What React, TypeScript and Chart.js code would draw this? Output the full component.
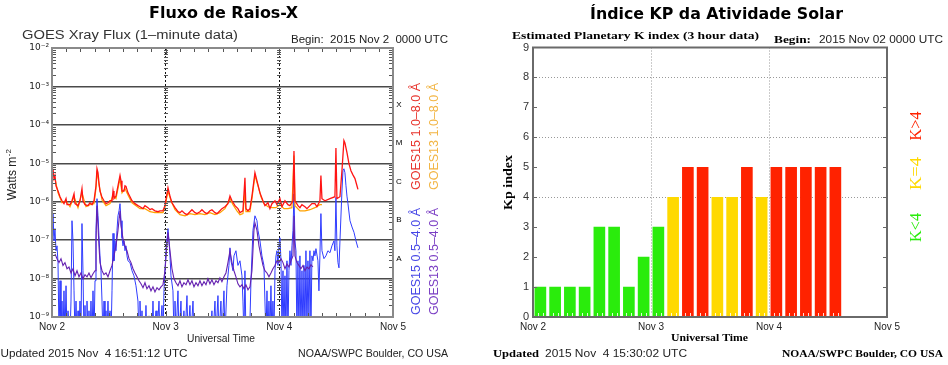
import React, { useEffect, useRef } from 'react';
import { Chart, registerables } from 'chart.js';

Chart.register(...registerables);

// ---------- shared axis data ----------
const dayLabels = ['Nov 2', 'Nov 3', 'Nov 4', 'Nov 5'];
const dayHours = [0, 24, 48, 72];

// ---------- X-ray flux panel ----------
const fluxTickValues = [1e-9, 1e-8, 1e-7, 1e-6, 1e-5, 1e-4, 1e-3, 1e-2];
const fluxTickLabels = ['10⁻⁹', '10⁻⁸', '10⁻⁷', '10⁻⁶', '10⁻⁵', '10⁻⁴', '10⁻³', '10⁻²'];
const flareClassLabels = ['A', 'B', 'C', 'M', 'X'];
const flareClassCenters = [3.5e-8, 3.5e-7, 3.5e-6, 3.5e-5, 3.5e-4];

// [hours since 2015 Nov 2 00:00 UTC, W/m^2]
const goes15Long: [number, number][] = [
  [0, 6.4e-6], [0.21, 7.2e-6], [0.42, 4.0e-6], [0.63, 4.8e-6], [0.84, 2.6e-6], [1.27, 1.9e-6], [1.69, 1.35e-6],
  [2.11, 1.06e-6], [2.53, 8.9e-7], [2.96, 1.2e-6], [3.17, 8.4e-7], [3.8, 8.4e-7], [4.22, 1.06e-6], [4.65, 1.6e-6],
  [4.86, 8.9e-7], [5.49, 7.9e-7], [5.91, 1.06e-6], [6.33, 2.2e-6], [6.54, 1.06e-6], [6.97, 8.4e-7], [7.6, 7.9e-7],
  [8.02, 9.4e-7], [8.45, 8.4e-7], [8.87, 1.06e-6], [9.29, 2.6e-6], [9.5, 7.2e-6], [9.71, 5.7e-6], [9.92, 3.1e-6],
  [10.13, 1.9e-6], [10.56, 1.3e-6], [10.98, 1.06e-6], [11.4, 8.9e-7], [11.82, 9.4e-7], [12.25, 1.06e-6],
  [12.67, 1.06e-6], [12.88, 1.9e-6], [13.09, 1.2e-6], [13.51, 1.4e-6], [13.93, 2.6e-6], [14.36, 4.8e-6],
  [14.57, 3.5e-6], [14.78, 1.9e-6], [15.2, 1.9e-6], [15.41, 2.6e-6], [15.62, 2.5e-6], [16.04, 1.7e-6],
  [16.47, 1.35e-6], [16.89, 1.06e-6], [17.52, 8.9e-7], [18.15, 7.9e-7], [18.58, 7.4e-7], [19.21, 6.6e-7],
  [19.63, 7.9e-7], [20.27, 7.0e-7], [20.69, 6.2e-7], [21.11, 6.6e-7], [21.74, 5.8e-7], [22.38, 5.5e-7],
  [22.8, 5.8e-7], [23.43, 5.8e-7], [23.85, 7.9e-7], [24.49, 2.3e-6], [24.91, 1.4e-6], [25.33, 9.4e-7],
  [25.97, 7.0e-7], [26.6, 5.5e-7], [27.02, 5.2e-7], [27.44, 5.8e-7], [28.08, 4.9e-7], [28.5, 4.6e-7],
  [29.13, 5.5e-7], [29.55, 6.2e-7], [30.19, 5.2e-7], [30.61, 4.9e-7], [31.24, 5.5e-7], [31.66, 6.2e-7],
  [32.3, 5.2e-7], [32.72, 4.9e-7], [33.35, 5.8e-7], [33.77, 6.2e-7], [34.41, 5.2e-7], [34.83, 4.9e-7],
  [35.46, 5.8e-7], [35.88, 6.6e-7], [36.52, 7.4e-7], [37.15, 8.9e-7], [37.58, 1.4e-6], [38.0, 1.06e-6],
  [38.63, 7.9e-7], [39.26, 6.6e-7], [39.69, 5.2e-7], [40.32, 5.8e-7], [40.74, 4.2e-6], [40.95, 6.6e-7],
  [41.38, 5.8e-7], [41.8, 6.6e-7], [42.22, 1.4e-6], [42.85, 5.7e-6], [43.28, 3.5e-6], [43.91, 1.7e-6],
  [44.54, 1.06e-6], [44.96, 7.9e-7], [45.6, 9.4e-7], [46.02, 6.6e-7], [46.44, 8.9e-7], [47.08, 1.06e-6],
  [47.5, 8.4e-7], [48.13, 1.2e-6], [48.56, 7.4e-7], [49.19, 1.06e-6], [49.82, 8.4e-7], [50.24, 7.9e-7],
  [50.88, 1.06e-6], [51.09, 2.1e-5], [51.3, 1.06e-6], [51.93, 7.9e-7], [52.35, 7.0e-7], [52.77, 8.4e-7],
  [53.41, 7.4e-7], [53.83, 6.6e-7], [54.46, 7.9e-7], [54.88, 8.9e-7], [55.52, 8.9e-7], [55.94, 7.4e-7],
  [56.57, 1.06e-6], [56.78, 4.8e-6], [57.0, 1.2e-6], [57.63, 1.06e-6], [58.69, 1.2e-6], [59.74, 1.35e-6],
  [59.95, 2.5e-5], [60.16, 1.2e-6], [60.8, 1.35e-6], [61.22, 6.4e-6], [61.64, 3.9e-5], [61.85, 3.4e-5],
  [62.28, 1.9e-5], [62.7, 9.8e-6], [63.12, 6.4e-6], [63.54, 5.0e-6], [63.97, 4.0e-6], [64.39, 2.6e-6],
  [64.6, 2.1e-6],
];

const goes13Long: [number, number][] = [
  [0, 5.7e-6], [0.63, 4.0e-6], [1.27, 1.7e-6], [2.11, 9.4e-7], [2.96, 1.06e-6], [3.8, 7.4e-7], [4.65, 1.35e-6],
  [5.49, 7.0e-7], [6.33, 1.7e-6], [7.18, 7.4e-7], [8.02, 8.4e-7], [8.87, 8.9e-7], [9.29, 2.2e-6], [9.5, 6.4e-6],
  [9.92, 2.8e-6], [10.56, 1.1e-6], [11.4, 7.9e-7], [12.25, 8.9e-7], [12.88, 1.5e-6], [13.51, 1.2e-6],
  [14.36, 4.0e-6], [14.78, 1.7e-6], [15.41, 2.2e-6], [16.04, 1.5e-6], [16.89, 9.4e-7], [17.73, 7.9e-7],
  [18.58, 6.6e-7], [19.63, 6.6e-7], [20.69, 5.5e-7], [21.74, 5.2e-7], [22.8, 5.2e-7], [23.43, 5.2e-7],
  [23.85, 7.0e-7], [24.49, 1.9e-6], [25.12, 1.06e-6], [25.97, 6.2e-7], [27.02, 4.6e-7], [28.08, 4.3e-7],
  [29.13, 4.9e-7], [30.19, 4.6e-7], [31.24, 4.9e-7], [32.3, 4.6e-7], [33.35, 5.2e-7], [34.41, 4.6e-7],
  [35.46, 5.2e-7], [36.52, 6.6e-7], [37.58, 1.2e-6], [38.21, 8.4e-7], [39.05, 5.8e-7], [39.69, 4.6e-7],
  [40.32, 4.9e-7], [40.74, 1.9e-6], [40.95, 5.5e-7], [41.8, 5.5e-7], [42.22, 1.2e-6], [42.85, 4.8e-6],
  [43.49, 2.6e-6], [44.12, 1.35e-6], [44.75, 8.9e-7], [45.6, 7.4e-7], [46.44, 7.0e-7], [47.29, 7.0e-7],
  [48.13, 8.4e-7], [48.98, 6.6e-7], [49.82, 6.6e-7], [50.66, 7.0e-7], [51.09, 1.6e-5], [51.3, 7.9e-7],
  [52.35, 5.8e-7], [53.41, 5.8e-7], [54.46, 6.2e-7], [55.52, 7.0e-7], [56.57, 8.4e-7], [57.0, 8.4e-7],
];

const goes15Short: [number, number][] = [
  [0, 1.3e-7], [0.21, 4.9e-7], [0.42, 9.6e-8], [0.63, 2.0e-7], [0.84, 5.3e-8], [1.06, 7.1e-8], [1.27, 2.6e-8],
  [1.48, 3e-10], [1.69, 8.8e-9], [1.9, 3e-10], [2.11, 2.6e-9], [2.32, 3e-10], [2.53, 4.8e-9], [2.74, 3e-10],
  [2.96, 6.5e-9], [3.17, 3e-10], [3.38, 1.45e-9], [3.8, 3e-10], [4.01, 2.6e-9], [4.22, 3.2e-7], [4.43, 9.6e-8],
  [4.65, 4.8e-9], [4.86, 3e-10], [5.07, 2.6e-9], [5.28, 3e-10], [5.49, 1.45e-9], [5.7, 3e-10], [5.91, 2.6e-9],
  [6.12, 3e-10], [6.33, 2.7e-7], [6.54, 1.6e-8], [6.75, 3e-10], [6.97, 2.0e-9], [7.18, 3e-10], [7.39, 2.6e-9],
  [7.6, 3e-10], [7.81, 1.45e-9], [8.02, 3e-10], [8.23, 2.6e-9], [8.45, 3e-10], [8.66, 4.8e-9], [8.87, 3e-10],
  [9.08, 8.8e-9], [9.29, 1.8e-7], [9.5, 1.2e-6], [9.71, 4.3e-7], [9.92, 1.3e-7], [10.13, 3.9e-8], [10.34, 1.6e-8],
  [10.56, 2.6e-9], [10.77, 3e-10], [10.98, 2.6e-9], [11.19, 3e-10], [11.4, 1.45e-9], [11.61, 3e-10],
  [11.82, 2.6e-9], [12.03, 3e-10], [12.25, 1.45e-9], [12.46, 3e-10], [12.67, 4.8e-9], [12.88, 1.5e-7],
  [13.09, 2.9e-8], [13.3, 9.6e-8], [13.51, 5.3e-8], [13.72, 1.8e-7], [13.93, 4.3e-7], [14.15, 5.8e-7],
  [14.36, 8.9e-7], [14.57, 3.2e-7], [14.78, 1.15e-7], [14.99, 7.1e-8], [15.2, 9.6e-8], [15.41, 5.3e-8],
  [15.62, 7.1e-8], [15.83, 3.9e-8], [16.04, 2.9e-8], [16.47, 2.6e-8], [16.89, 1.6e-8], [17.31, 1.18e-8],
  [17.73, 6.5e-9], [18.15, 2.6e-9], [18.37, 3e-10], [18.58, 2.6e-9], [18.79, 3e-10], [19.0, 1.45e-9],
  [19.21, 3e-10], [19.63, 3e-10], [19.84, 2.0e-9], [20.05, 3e-10], [20.48, 1.07e-9], [20.69, 3e-10],
  [21.11, 3e-10], [21.32, 2.6e-9], [21.53, 3e-10], [21.96, 1.45e-9], [22.17, 3e-10], [22.59, 2.6e-9],
  [22.8, 3e-10], [23.22, 2.0e-9], [23.43, 3e-10], [23.64, 4.8e-9], [24.07, 5.3e-8], [24.49, 2.0e-7],
  [24.7, 9.6e-8], [24.91, 3.9e-8], [25.12, 1.18e-8], [25.54, 4.8e-9], [25.76, 3e-10], [25.97, 2.6e-9],
  [26.18, 3e-10], [26.6, 4.8e-9], [26.81, 3e-10], [27.23, 2.6e-9], [27.44, 3e-10], [27.86, 1.45e-9],
  [28.08, 3e-10], [28.5, 3.6e-9], [28.71, 3e-10], [29.13, 2.0e-9], [29.34, 3e-10], [29.77, 2.6e-9],
  [29.98, 3e-10], [31.24, 8e-10], [31.66, 3e-10], [33.35, 3e-10], [33.77, 1.45e-9], [33.98, 3e-10],
  [34.41, 2.6e-9], [34.62, 3e-10], [35.04, 3.6e-9], [35.25, 3e-10], [35.67, 2.6e-9], [35.88, 3e-10],
  [36.31, 4.8e-9], [36.52, 3e-10], [36.94, 6.5e-9], [37.36, 2.2e-8], [37.58, 6.3e-8], [37.79, 2.9e-8],
  [38.21, 1.6e-8], [38.42, 3.9e-8], [38.84, 5.3e-8], [39.26, 2.2e-8], [39.69, 2.9e-8], [40.11, 1.18e-8],
  [40.32, 2.6e-9], [40.53, 3e-10], [40.74, 1.6e-8], [40.95, 3e-10], [41.59, 3e-10], [41.8, 8e-10],
  [42.01, 8.8e-9], [42.43, 1.8e-7], [42.85, 4.3e-7], [43.28, 3.2e-7], [43.49, 1.8e-7], [43.91, 9.6e-8],
  [44.33, 3.9e-8], [44.75, 2.2e-8], [44.96, 2.6e-9], [45.18, 3e-10], [45.39, 4.8e-9], [45.6, 3e-10],
  [45.81, 2.6e-9], [46.02, 3e-10], [46.23, 6.5e-9], [46.44, 3e-10], [46.65, 2.6e-9], [46.87, 3e-10],
  [47.08, 1.6e-8], [47.29, 3.9e-8], [47.5, 5.3e-8], [47.71, 2.2e-8], [47.92, 7.1e-8], [48.13, 1.15e-7],
  [48.35, 2.9e-8], [48.56, 3e-10], [48.77, 1.6e-8], [48.98, 3e-10], [49.19, 1.18e-8], [49.4, 3e-10],
  [49.61, 2.9e-8], [49.82, 3e-10], [50.03, 1.6e-8], [50.24, 5.3e-8], [50.46, 2.2e-8], [50.67, 7.1e-8],
  [50.88, 1.8e-7], [51.09, 1.6e-6], [51.3, 9.6e-8], [51.51, 5.3e-8], [51.72, 3e-10], [51.93, 2.9e-8],
  [52.14, 3e-10], [52.35, 3.9e-8], [52.56, 3e-10], [52.78, 1.6e-8], [52.99, 3e-10], [53.2, 2.2e-8],
  [53.41, 3e-10], [53.62, 5.3e-8], [53.83, 3e-10], [54.04, 2.9e-8], [54.25, 8e-10], [54.46, 5.3e-8],
  [54.67, 3e-10], [54.88, 3.9e-8], [55.1, 2.9e-8], [55.31, 5.3e-8], [55.52, 3.9e-8], [55.73, 6.0e-8],
  [56.15, 2.9e-8], [56.36, 4.8e-9], [56.57, 3.9e-8], [56.78, 4.9e-7], [57.0, 5.3e-8], [57.42, 3.3e-8],
  [57.84, 3.9e-8], [58.26, 5.3e-8], [58.69, 4.7e-8], [59.11, 7.1e-8], [59.53, 9.6e-8], [59.74, 5.3e-8],
  [59.95, 1.3e-6], [60.16, 7.1e-8], [60.38, 2.6e-8], [60.59, 1.9e-8], [60.8, 9.6e-8], [61.22, 1.9e-6],
  [61.43, 6.4e-6], [61.64, 7.2e-6], [61.85, 5.7e-6], [62.07, 2.6e-6], [62.28, 1.4e-6], [62.49, 8.9e-7],
  [62.92, 3.2e-7], [63.34, 2.2e-7], [63.76, 1.6e-7], [64.18, 9.6e-8], [64.6, 6.3e-8],
];

const goes13Short: [number, number][] = [
  [0.63, 4.4e-8], [1.06, 3.3e-8], [1.48, 2.6e-8], [1.9, 3.3e-8], [2.32, 2.2e-8], [2.74, 2.6e-8], [3.17, 1.8e-8],
  [3.59, 2.0e-8], [4.01, 1.4e-8], [4.43, 1.8e-8], [4.86, 1.18e-8], [5.28, 1.6e-8], [5.7, 1.11e-8], [6.12, 1.4e-8],
  [6.54, 9.9e-9], [6.97, 1.26e-8], [7.39, 1.11e-8], [7.81, 1.4e-8], [8.23, 1.05e-8], [8.66, 1.33e-8],
  [9.08, 1.6e-8], [9.29, 9.6e-8], [9.5, 7.9e-7], [9.71, 2.4e-7], [9.92, 7.1e-8], [10.13, 2.6e-8], [10.56, 1.6e-8],
  [10.98, 1.26e-8], [11.4, 1.4e-8], [11.82, 1.11e-8], [12.25, 1.6e-8], [12.67, 2.2e-8], [13.09, 3.9e-8],
  [13.51, 7.1e-8], [13.93, 1.8e-7], [14.36, 5.8e-7], [14.57, 2.4e-7], [14.99, 1.1e-7], [15.41, 7.1e-8],
  [15.83, 5.3e-8], [16.26, 3.3e-8], [16.68, 2.6e-8], [17.1, 1.8e-8], [17.52, 1.4e-8], [17.94, 1.11e-8],
  [18.37, 8.8e-9], [18.79, 7.3e-9], [19.21, 5.8e-9], [19.63, 7.8e-9], [20.05, 5.4e-9], [20.48, 6.5e-9],
  [20.9, 4.8e-9], [21.32, 6.1e-9], [21.74, 4.5e-9], [22.17, 5.8e-9], [22.59, 5.1e-9], [23.01, 6.1e-9],
  [23.43, 6.9e-9], [23.85, 1.6e-8], [24.49, 1.6e-7], [24.91, 5.3e-8], [25.33, 1.8e-8], [25.76, 9.9e-9],
  [26.18, 7.8e-9], [26.6, 6.5e-9], [27.02, 8.8e-9], [27.44, 6.1e-9], [27.86, 7.8e-9], [28.29, 6.9e-9],
  [28.71, 9.3e-9], [29.13, 6.9e-9], [29.55, 8.8e-9], [29.98, 6.1e-9], [30.4, 7.8e-9], [30.82, 6.5e-9],
  [31.24, 8.8e-9], [31.66, 6.5e-9], [32.09, 8.3e-9], [32.51, 6.9e-9], [32.93, 9.9e-9], [33.35, 7.3e-9],
  [33.77, 9.3e-9], [34.2, 6.9e-9], [34.62, 8.8e-9], [35.04, 7.8e-9], [35.46, 1.05e-8], [35.88, 8.3e-9],
  [36.31, 1.11e-8], [36.73, 1.4e-8], [37.15, 2.6e-8], [37.58, 5.3e-8], [38.0, 2.6e-8], [38.42, 1.6e-8],
  [38.84, 1.11e-8], [39.26, 7.3e-9], [39.69, 6.1e-9], [40.11, 6.9e-9], [40.53, 5.4e-9], [40.95, 6.9e-9],
  [41.38, 5.1e-9], [41.8, 6.1e-9], [42.22, 1.6e-8], [42.64, 1.8e-7], [42.85, 2.8e-7], [43.28, 1.8e-7],
  [43.7, 7.1e-8], [44.12, 3.9e-8], [44.54, 2.2e-8], [44.96, 1.6e-8], [45.39, 1.4e-8], [45.81, 1.11e-8],
  [46.23, 1.4e-8], [46.65, 1.8e-8], [47.08, 2.2e-8], [47.5, 2.9e-8], [47.92, 2.6e-8], [48.35, 3.3e-8],
  [48.77, 2.6e-8], [49.19, 1.8e-8], [49.61, 2.4e-8], [50.03, 2.0e-8], [50.46, 2.9e-8], [50.88, 3.9e-8],
  [51.09, 4.3e-7], [51.3, 3.9e-8], [51.72, 2.6e-8], [52.14, 2.2e-8], [52.56, 1.8e-8], [52.99, 2.2e-8],
  [53.41, 1.6e-8], [53.83, 2.0e-8], [54.25, 1.8e-8], [54.67, 2.3e-8], [55.1, 2.0e-8],
];

// ---------- Kp panel ----------
const kpHours = [1.5, 4.5, 7.5, 10.5, 13.5, 16.5, 19.5, 22.5, 25.5, 28.5, 31.5, 34.5, 37.5, 40.5, 43.5, 46.5,
  49.5, 52.5, 55.5, 58.5, 61.5];
const kpValues = [1, 1, 1, 1, 3, 3, 1, 2, 3, 4, 5, 5, 4, 4, 5, 4, 5, 5, 5, 5, 5];
const kpDottedLevels = [4, 6, 8];

const KP_GREEN = '#2aec0c';
const KP_YELLOW = '#ffd900';
const KP_RED = '#ff2200';

const SANS = '"Liberation Sans", Arial, sans-serif';
const SERIF = '"Liberation Serif", "Times New Roman", serif';
const TITLE = '"DejaVu Sans", Verdana, sans-serif';

type TxtOpt = { w?: number; align?: CanvasTextAlign; rot?: boolean };
function txt(ctx: CanvasRenderingContext2D, s: string, x: number, y: number, font: string, color: string, o: TxtOpt = {}) {
  ctx.save();
  ctx.font = font;
  ctx.fillStyle = color;
  ctx.textBaseline = 'alphabetic';
  ctx.textAlign = o.align || 'left';
  const w = ctx.measureText(s).width;
  const sx = o.w ? o.w / w : 1;
  ctx.translate(x, y);
  if (o.rot) ctx.rotate(-Math.PI / 2);
  ctx.scale(sx, 1);
  ctx.fillText(s, 0, 0);
  ctx.restore();
}

function seg(ctx: CanvasRenderingContext2D, x1: number, y1: number, x2: number, y2: number) {
  ctx.beginPath();
  ctx.moveTo(x1, y1);
  ctx.lineTo(x2, y2);
  ctx.stroke();
}

const xrayDecor = {
  id: 'xrayDecor',
  afterDraw(chart: any) {
    const { ctx, chartArea: a, scales } = chart;
    const x = scales.x, y = scales.y;
    ctx.save();
    ctx.strokeStyle = '#555';
    ctx.lineWidth = 1;
    for (let i = 0; i < fluxTickValues.length - 1; i++) {
      for (let m = 2; m <= 9; m++) {
        const py = Math.round(y.getPixelForValue(fluxTickValues[i] * m)) + 0.5;
        seg(ctx, a.left, py, a.left + 4, py);
        seg(ctx, a.right - 4, py, a.right, py);
        for (const h of [24, 48]) {
          const px = Math.round(x.getPixelForValue(h));
          seg(ctx, px - 2, py, px + 2, py);
        }
      }
    }
    for (let h = 3; h < 72; h += 3) {
      const px = Math.round(x.getPixelForValue(h)) + 0.5;
      const len = h % 24 === 0 ? 6 : 4;
      seg(ctx, px, a.top, px, a.top + len);
      seg(ctx, px, a.bottom - len, px, a.bottom);
    }
    ctx.strokeStyle = '#8a8a8a';
    ctx.lineWidth = 2;
    ctx.strokeRect(a.left, a.top, a.right - a.left, a.bottom - a.top);
    ctx.restore();

    // flare class letters
    flareClassLabels.forEach((c, i) => {
      txt(ctx, c, a.right + 6, y.getPixelForValue(flareClassCenters[i]) + 3, '8px ' + SANS, '#000', { align: 'center' });
    });

    txt(ctx, 'Fluxo de Raios-X', 223.5, 18.3, 'bold 16px ' + TITLE, '#000', { align: 'center', w: 149 });
    txt(ctx, 'GOES Xray Flux (1–minute data)', 22, 39.3, '12px ' + SANS, '#333', { w: 216 });
    txt(ctx, 'Begin:  2015 Nov 2  0000 UTC', 291, 42.7, '10px ' + SANS, '#222', { w: 157 });
    txt(ctx, 'Universal Time', 221, 341.7, '10px ' + SANS, '#222', { align: 'center', w: 68 });
    txt(ctx, 'Updated 2015 Nov  4 16:51:12 UTC', 0.5, 356.7, '11px ' + SANS, '#222', { w: 187 });
    txt(ctx, 'NOAA/SWPC Boulder, CO USA', 298, 356.7, '11px ' + SANS, '#222', { w: 150 });

    // rotated y title "Watts m-2"
    ctx.save();
    ctx.translate(16, 175);
    ctx.rotate(-Math.PI / 2);
    ctx.fillStyle = '#222';
    ctx.textBaseline = 'alphabetic';
    ctx.font = '12px ' + SANS;
    const w1 = ctx.measureText('Watts m').width;
    ctx.font = '8px ' + SANS;
    const w2 = ctx.measureText('-2').width;
    const start = -(w1 + w2) / 2;
    ctx.font = '12px ' + SANS;
    ctx.fillText('Watts m', start, 0);
    ctx.font = '8px ' + SANS;
    ctx.fillText('-2', start + w1 + 0.5, -5);
    ctx.restore();

    // rotated channel legends
    txt(ctx, 'GOES15 1.0–8.0 Å', 420, 136.5, '12px ' + SANS, '#e8342c', { rot: true, align: 'center', w: 107 });
    txt(ctx, 'GOES13 1.0–8.0 Å', 438, 136.5, '12px ' + SANS, '#f2b544', { rot: true, align: 'center', w: 107 });
    txt(ctx, 'GOES15 0.5–4.0 Å', 420, 261.5, '12px ' + SANS, '#4646e6', { rot: true, align: 'center', w: 107 });
    txt(ctx, 'GOES13 0.5–4.0 Å', 438, 261.5, '12px ' + SANS, '#7b3fc4', { rot: true, align: 'center', w: 107 });
  },
};

const R = 474; // page offset of the Kp canvas
const kpDecor = {
  id: 'kpDecor',
  afterDraw(chart: any) {
    const { ctx, chartArea: a, scales } = chart;
    const x = scales.x, y = scales.y;
    ctx.save();
    // hourly ticks at the bottom (white over bars)
    ctx.strokeStyle = 'rgba(255,255,255,0.85)';
    ctx.lineWidth = 1;
    for (let h = 1; h < 72; h++) {
      const px = Math.round(x.getPixelForValue(h)) + 0.5;
      seg(ctx, px, a.bottom - 4, px, a.bottom);
    }
    ctx.strokeStyle = '#666';
    for (let k = 1; k < 9; k++) {
      const py = Math.round(y.getPixelForValue(k)) + 0.5;
      seg(ctx, a.left, py, a.left + 4, py);
      seg(ctx, a.right - 4, py, a.right, py);
    }
    ctx.strokeStyle = '#6a6a6a';
    ctx.lineWidth = 2;
    ctx.strokeRect(a.left, a.top, a.right - a.left, a.bottom - a.top);
    ctx.restore();

    txt(ctx, 'Índice KP da Atividade Solar', 716.5 - R, 19.3, 'bold 16px ' + TITLE, '#000', { align: 'center', w: 253 });
    txt(ctx, 'Estimated Planetary K index (3 hour data)', 512 - R, 39.3, 'bold 11px ' + SERIF, '#000', { w: 247 });
    txt(ctx, 'Begin:', 774 - R, 43.3, 'bold 11px ' + SERIF, '#000', { w: 37 });
    txt(ctx, '2015 Nov 02 0000 UTC', 819 - R, 43.3, '10px ' + SANS, '#222', { w: 124 });
    txt(ctx, 'Kp index', 512 - R, 182.5, 'bold 13px ' + SERIF, '#000', { rot: true, align: 'center', w: 55 });
    txt(ctx, 'Universal Time', 709.5 - R, 341, 'bold 11px ' + SERIF, '#000', { align: 'center', w: 77 });
    txt(ctx, 'Updated', 493 - R, 356.7, 'bold 11px ' + SERIF, '#000', { w: 46 });
    txt(ctx, '2015 Nov  4 15:30:02 UTC', 545 - R, 356.7, '10.5px ' + SANS, '#222', { w: 142 });
    txt(ctx, 'NOAA/SWPC Boulder, CO USA', 782 - R, 356.7, 'bold 11px ' + SERIF, '#000', { w: 161 });
    txt(ctx, 'K>4', 921 - R, 126, '16px ' + SERIF, KP_RED, { rot: true, align: 'center', w: 29 });
    txt(ctx, 'K=4', 921 - R, 173.5, '16px ' + SERIF, KP_YELLOW, { rot: true, align: 'center', w: 33 });
    txt(ctx, 'K<4', 921 - R, 227.5, '16px ' + SERIF, KP_GREEN, { rot: true, align: 'center', w: 29 });
  },
};

const transparent = 'rgba(0,0,0,0)';

function lineSet(data: [number, number][], color: string, width: number) {
  return {
    data: data.map(([h, v]) => ({ x: h, y: v })),
    borderColor: color,
    borderWidth: width,
    pointRadius: 0,
    tension: 0,
    fill: false,
    clip: 0,
  };
}

export default function App() {
  const leftRef = useRef<HTMLCanvasElement>(null);
  const rightRef = useRef<HTMLCanvasElement>(null);

  useEffect(() => {
    const xray = new Chart(leftRef.current as HTMLCanvasElement, {
      type: 'line',
      data: {
        datasets: [
          lineSet(goes15Long, '#ff1414', 1.3),
          lineSet(goes13Long, '#ffa200', 1.2),
          lineSet(goes13Short, '#6420b0', 1.1),
          lineSet(goes15Short, '#2f3cff', 1),
        ] as any,
      },
      options: {
        responsive: false,
        animation: false,
        devicePixelRatio: 1,
        events: [],
        layout: { padding: { left: 0, right: 81, top: 48, bottom: 0 } },
        plugins: { legend: { display: false }, tooltip: { enabled: false } },
        scales: {
          x: {
            type: 'linear',
            min: 0,
            max: 72,
            offset: false,
            afterBuildTicks: (s: any) => { s.ticks = dayHours.map((v) => ({ value: v })); },
            afterFit: (s: any) => { s.height = 48; },
            ticks: {
              autoSkip: false,
              maxRotation: 0,
              padding: 4,
              font: { family: SANS, size: 10 },
              color: '#222',
              callback: (_v: any, i: number) => dayLabels[i],
            },
            grid: {
              drawTicks: false,
              offset: false,
              lineWidth: 1,
              color: (c: any) => (c.tick && (c.tick.value === 24 || c.tick.value === 48) ? '#111' : transparent),
            },
            border: { display: false, dash: [2, 2] },
          },
          y: {
            type: 'logarithmic',
            min: 1e-9,
            max: 1e-2,
            afterBuildTicks: (s: any) => { s.ticks = fluxTickValues.map((v) => ({ value: v, major: true })); },
            afterFit: (s: any) => { s.width = 52; },
            ticks: {
              autoSkip: false,
              padding: 3,
              font: { family: '"DejaVu Sans", sans-serif', size: 9 },
              color: '#222',
              callback: (_v: any, i: number) => fluxTickLabels[i],
            },
            grid: { drawTicks: false, lineWidth: 1.5, color: '#4a4a4a' },
            border: { display: false },
          },
        },
      } as any,
      plugins: [xrayDecor],
    });

    const kp = new Chart(rightRef.current as HTMLCanvasElement, {
      type: 'bar',
      data: {
        datasets: [
          {
            data: kpValues.map((v, i) => ({ x: kpHours[i], y: v })),
            backgroundColor: kpValues.map((v) => (v < 4 ? KP_GREEN : v === 4 ? KP_YELLOW : KP_RED)),
            borderWidth: 0,
            barThickness: 11,
          },
        ] as any,
      },
      options: {
        responsive: false,
        animation: false,
        devicePixelRatio: 1,
        events: [],
        layout: { padding: { left: 0, right: 61, top: 47.5, bottom: 0 } },
        plugins: { legend: { display: false }, tooltip: { enabled: false } },
        scales: {
          x: {
            type: 'linear',
            min: 0,
            max: 72,
            offset: false,
            afterBuildTicks: (s: any) => { s.ticks = dayHours.map((v) => ({ value: v })); },
            afterFit: (s: any) => { s.height = 48; },
            ticks: {
              autoSkip: false,
              maxRotation: 0,
              padding: 4,
              font: { family: SANS, size: 10 },
              color: '#222',
              callback: (_v: any, i: number) => dayLabels[i],
            },
            grid: {
              drawTicks: false,
              offset: false,
              lineWidth: 1,
              color: (c: any) => (c.tick && (c.tick.value === 24 || c.tick.value === 48) ? '#999' : transparent),
            },
            border: { display: false, dash: [1, 2] },
          },
          y: {
            type: 'linear',
            min: 0,
            max: 9,
            afterFit: (s: any) => { s.width = 59; },
            ticks: {
              stepSize: 1,
              autoSkip: false,
              padding: 4,
              font: { family: SANS, size: 11 },
              color: '#333',
            },
            grid: {
              drawTicks: false,
              lineWidth: 1,
              color: (c: any) => (c.tick && kpDottedLevels.includes(c.tick.value) ? '#999' : transparent),
            },
            border: { display: false, dash: [1, 2] },
          },
        },
      } as any,
      plugins: [kpDecor],
    });

    return () => {
      xray.destroy();
      kp.destroy();
    };
  }, []);

  return (
    <div style={{ position: 'fixed', left: 0, top: 0, width: 948, height: 365, background: '#fff' }}>
      <canvas ref={leftRef} width={474} height={365} style={{ position: 'absolute', left: 0, top: 0, width: 474, height: 365 }} />
      <canvas ref={rightRef} width={474} height={365} style={{ position: 'absolute', left: 474, top: 0, width: 474, height: 365 }} />
    </div>
  );
}
